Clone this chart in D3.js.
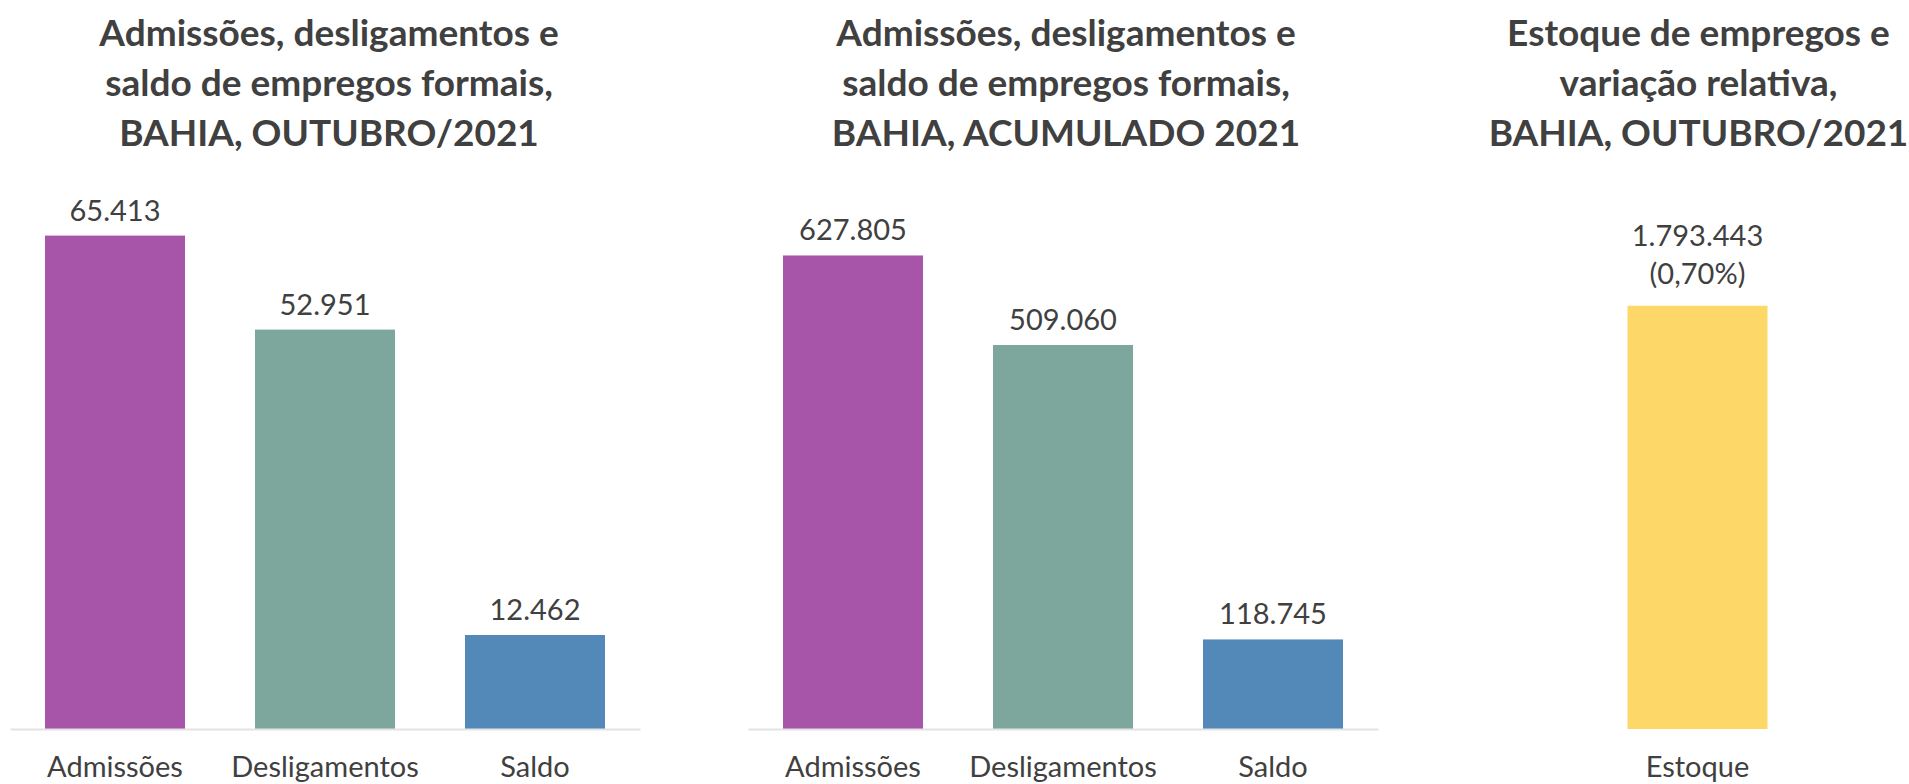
<html>

<head>
    <meta charset="utf-8">
    <script src="https://d3js.org/d3.v7.min.js"></script>
    <style>
        body { margin: 0; background: #fff; }
        text { font-family: Lato, "Open Sans", sans-serif; fill: #404040; }
    </style>
</head>

<body>
    <div id="chart">
        <svg width="1909" height="784"></svg>
    </div>
    <script>
        // dados (CAGED - Bahia)
        var categorias = ["Admissões", "Desligamentos", "Saldo"]
        var valoresOutubro = [65413, 52951, 12462]
        var valoresAcumulado = [627805, 509060, 118745]
        var categoriasEstoque = ["Estoque"]
        var valoresEstoque = [1793443]
        var variacaoEstoque = [0.70] // em %

        var tituloOutubro = ["Admissões, desligamentos e", "saldo de empregos formais,", "BAHIA, OUTUBRO/2021"]
        var tituloAcumulado = ["Admissões, desligamentos e", "saldo de empregos formais,", "BAHIA, ACUMULADO 2021"]
        var tituloEstoque = ["Estoque de empregos e", "variação relativa,", "BAHIA, OUTUBRO/2021"]

        var cores = d3.scaleOrdinal()
            .domain(["Admissões", "Desligamentos", "Saldo", "Estoque"])
            .range(["#a755a8", "#7da79c", "#5289b9", "#fdd868"])

        var br = d3.formatLocale({ decimal: ",", thousands: ".", grouping: [3], currency: ["R$", ""] })
        var fmt = br.format(",d")
        var fmtPct = br.format(".2f")

        var svg = d3.select("#chart svg")
        var base = 729

        function painel(opts) {
            var g = svg.append("g")

            var x = d3.scaleBand()
                .domain(opts.cats)
                .range(opts.xr)
                .paddingInner(1 / 3)
                .paddingOuter(1 / 6)

            var y = d3.scaleLinear()
                .domain([0, opts.yMax])
                .range([base, opts.top])

            // titulo
            var cx = (opts.xr[0] + opts.xr[1]) / 2 + opts.tdx
            g.append("text")
                .attr("text-anchor", "middle")
                .style("font-size", "37px")
                .style("font-weight", "bold")
                .selectAll("tspan")
                .data(opts.titulo)
                .enter()
                .append("tspan")
                .attr("x", cx)
                .attr("y", function(d, i) { return 46 + i * 50 })
                .text(function(d) { return d })

            var dados = opts.cats.map(function(c, i) {
                return { cat: c, v: opts.vals[i], pct: opts.pcts ? opts.pcts[i] : null }
            })

            g.selectAll("rect")
                .data(dados)
                .enter()
                .append("rect")
                .attr("x", function(d) { return x(d.cat) })
                .attr("width", x.bandwidth())
                .attr("y", function(d) { return y(d.v) })
                .attr("height", function(d) { return base - y(d.v) })
                .style("fill", function(d) { return cores(d.cat) })

            // eixo x (linha cinza + rotulos)
            var eixo = g.append("g")
                .attr("transform", "translate(0," + base + ")")
                .call(d3.axisBottom(x).tickSize(0).tickPadding(27))
            eixo.select(".domain")
                .attr("stroke", opts.linha ? "#e3e3e3" : "none")
                .attr("stroke-width", 2)
            eixo.selectAll("text")
                .style("font-family", "Lato, sans-serif")
                .style("font-size", "29px")
                .style("fill", "#404040")

            // rotulos de valor
            var lab = g.selectAll(".valor")
                .data(dados)
                .enter()
                .append("text")
                .attr("class", "valor")
                .attr("text-anchor", "middle")
                .style("font-size", "29px")
            lab.each(function(d) {
                var t = d3.select(this)
                var xc = x(d.cat) + x.bandwidth() / 2
                if (d.pct != null) {
                    t.append("tspan").attr("x", xc).attr("y", y(d.v) - 60).text(fmt(d.v))
                    t.append("tspan").attr("x", xc).attr("y", y(d.v) - 22).text("(" + fmtPct(d.pct) + "%)")
                } else {
                    t.attr("x", xc).attr("y", y(d.v) - 15).text(fmt(d.v))
                }
            })
        }

        painel({ cats: categorias, vals: valoresOutubro, xr: [10, 640], yMax: 70000, top: 201, titulo: tituloOutubro, tdx: 4, linha: true })
        painel({ cats: categorias, vals: valoresAcumulado, xr: [748, 1378], yMax: 700000, top: 201, titulo: tituloAcumulado, tdx: 3, linha: true })
        painel({ cats: categoriasEstoque, vals: valoresEstoque, pcts: variacaoEstoque, xr: [1592.5, 1802.5], yMax: 2000000, top: 257, titulo: tituloEstoque, tdx: 1, linha: false })
    </script>

</body>

</html>
